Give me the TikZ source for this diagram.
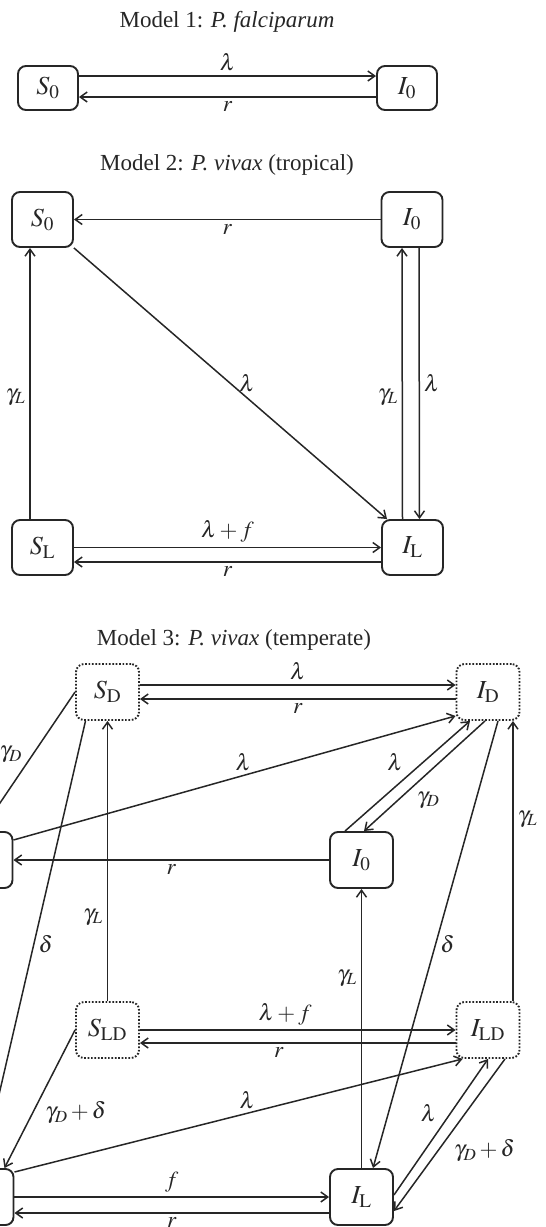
\documentclass[tikz,border=0pt]{standalone}
\usepackage{mathptmx}
\usepackage{fontspec}
\setmainfont{Liberation Serif}
\usetikzlibrary{arrows.meta}
\tikzset{
  >={Straight Barb[length=7pt,width=10pt]},
  bx/.style={draw,line width=1.9pt,rounded corners=8pt,minimum width=63pt,minimum height=56pt,inner sep=0pt,font=\fontsize{26}{29}\selectfont},
  dbx/.style={bx,dash pattern=on 1.7pt off 1.7pt},
  lb/.style={inner sep=4pt,font=\fontsize{23}{26}\selectfont},
  ttl/.style={font=\fontsize{23}{26}\selectfont},
  every picture/.style={line width=1.5pt},
}

\begin{document}
\begin{tikzpicture}[x=1pt,y=-1pt,color=black!85]
\useasboundingbox (0,0) rectangle (546,1227);
\clip (0,0) rectangle (546,1227);
\node[ttl] (t1) at (227,22) {Model 1: \textit{P. falciparum}};
\node[bx,minimum height=44pt,minimum width=60pt] (a0) at (48,88) {$S_0$};
\node[bx,minimum height=44pt,minimum width=60pt] (b0) at (407,88) {$I_0$};
\draw[->] ([yshift=12pt]a0.east) -- node[lb,above]{$\lambda$} ([yshift=12pt]b0.west);
\draw[->] ([yshift=-9pt]b0.west) -- node[lb,below]{$r$} ([yshift=-9pt]a0.east);

\node[ttl] (t2) at (227,165) {Model 2: \textit{P. vivax} (tropical)};
\node[bx,minimum width=61pt,minimum height=55pt] (s0) at (42.5,219.5) {$S_0$};
\node[bx,minimum width=61pt,minimum height=55pt] (i0) at (412,219.5) {$I_0$};
\node[bx,minimum width=61pt,minimum height=55pt] (sl) at (42.5,547.5) {$S_\mathrm{L}$};
\node[bx,minimum width=61pt,minimum height=55pt] (il) at (412.5,547.5) {$I_\mathrm{L}$};
\draw[->] (i0) -- node[lb,below]{$r$} (s0);
\draw[->] ([xshift=-12.5pt]sl.north) -- node[lb,left,pos=0.45]{$\gamma_L$} ([xshift=-12.5pt]s0.south);
\draw[->] (s0.south east) -- node[lb,right=4pt]{$\lambda$} ([xshift=6pt]il.north west);
\draw[->] ([xshift=-10pt]il.north) -- node[lb,left,pos=0.45]{$\gamma_L$} ([xshift=-10pt]i0.south);
\draw[->] ([xshift=7pt]i0.south) -- node[lb,right]{$\lambda$} ([xshift=7pt]il.north);
\draw[->] (sl) -- node[lb,above]{$\lambda+f$} (il);
\draw[->] ([yshift=-14.5pt]il.west) -- node[lb,below]{$r$} ([yshift=-14.5pt]sl.east);

\node[ttl] (t3) at (234,640) {Model 3: \textit{P. vivax} (temperate)};
\node[dbx] (sd) at (107.5,692) {$S_\mathrm{D}$};
\node[dbx] (id) at (488,692) {$I_\mathrm{D}$};
\node[bx] (s0b) at (-19,860) {$S_0$};
\node[bx] (i0b) at (361.5,860) {$I_0$};
\node[dbx] (sld) at (107.5,1030) {$S_\mathrm{LD}$};
\node[dbx] (ild) at (488,1030) {$I_\mathrm{LD}$};
\node[bx] (slb) at (-18,1197) {$S_\mathrm{L}$};
\node[bx] (ilb) at (361.5,1197) {$I_\mathrm{L}$};
\draw[->] ([yshift=7pt]sd.east) -- node[lb,above]{$\lambda$} ([yshift=7pt]id.west);
\draw[->] ([yshift=-7pt]id.west) -- node[lb,below]{$r$} ([yshift=-7pt]sd.east);
\draw[->] (sd.west) -- node[lb,left=6pt,pos=0.45]{$\gamma_D$} (s0b.north);
\draw[->] ([xshift=-22pt]sd.south) -- node[lb,right]{$\delta$} (slb.north);
\draw[->] (sld.north) -- node[lb,left,pos=0.3]{$\gamma_L$} (sd.south);
\draw[->] (sld.west) -- node[lb,right=8pt,pos=0.6]{$\gamma_D+\delta$} ([xshift=-10pt]slb.north east);
\draw[->] ([yshift=20pt]s0b.east) -- node[lb,above,pos=0.52]{$\lambda$} ([yshift=5pt]id.south west);
\draw[->] ([yshift=25pt]slb.east) -- node[lb,above,pos=0.52]{$\lambda$} ([xshift=7pt]ild.south west);
\draw[->] (i0b) -- node[lb,below]{$r$} (s0b);
\draw[->] ([xshift=-16.5pt]i0b.north) -- node[lb,above left]{$\lambda$} ([xshift=-18pt]id.south);
\draw[->] ([xshift=-3pt]id.south) -- node[lb,below right,pos=0.6]{$\gamma_D$} ([xshift=2.5pt]i0b.north);
\draw[->] ([xshift=10pt]id.south) -- node[lb,right]{$\delta$} ([xshift=11.5pt]ilb.north);
\draw[->] ([xshift=25pt]ild.north) -- node[lb,right,pos=0.65]{$\gamma_L$} ([xshift=25pt]id.south);
\draw[->] (ilb) -- node[lb,left,pos=0.68]{$\gamma_L$} (i0b);
\draw[->] (sld) -- node[lb,above,pos=0.46]{$\lambda+f$} (ild);
\draw[->] ([yshift=-13pt]ild.west) -- node[lb,below,pos=0.56]{$r$} ([yshift=-13pt]sld.east);
\draw[->] ([yshift=2pt]ilb.east) -- node[lb,above left]{$\lambda$} (ild.south);
\draw[->] ([xshift=17pt]ild.south) -- node[lb,below right]{$\gamma_D+\delta$} ([yshift=-14pt]ilb.east);
\draw[->] (slb) -- node[lb,above]{$f$} (ilb);
\draw[->] ([yshift=-16pt]ilb.west) -- node[lb,below]{$r$} ([yshift=-16pt]slb.east);
\end{tikzpicture}
\end{document}
